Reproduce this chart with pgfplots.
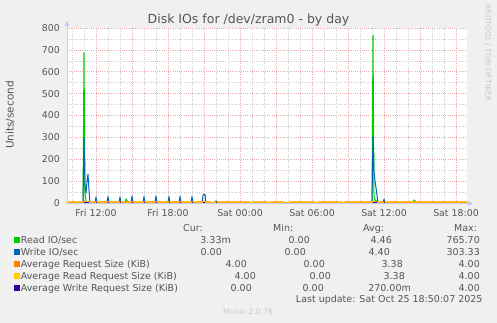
\documentclass[border=0pt]{standalone}
\usepackage{pgfplots}
\pgfplotsset{compat=1.18}
\usepackage{fontspec}
\setmainfont{DejaVu Sans}
\usetikzlibrary{arrows.meta}

\definecolor{bg}{HTML}{F0F0F0}
\definecolor{txt}{HTML}{555555}
\definecolor{faint}{HTML}{C8C8C8}
\definecolor{axiscol}{HTML}{C8C8F0}
\definecolor{mgrid}{HTML}{EBA8A8}
\definecolor{ngrid}{HTML}{CDCDCD}
\definecolor{cread}{HTML}{00CC00}
\definecolor{cwrite}{HTML}{0066B3}
\definecolor{creq}{HTML}{FF8000}
\definecolor{crreq}{HTML}{FFCC00}
\definecolor{cwreq}{HTML}{330099}

\newcommand\tfont{\fontsize{9.4}{11}\selectfont}
\newcommand\lfont{\fontsize{9.5}{11}\selectfont}

\begin{document}
\begin{tikzpicture}
\fill[bg] (0,0) rectangle (497pt,323pt);
\fill[white] (67pt,120pt) rectangle (467pt,295pt);
\begin{axis}[
  at={(67pt,120pt)}, anchor=south west,
  scale only axis, width=400pt, height=175pt,
  xmin=9.5833, xmax=42.9167, ymin=0, ymax=800,
  axis line style={draw=none},
  tick pos=left,
  major tick length=0pt, minor tick length=0pt,
  xtick={12,15,18,21,24,27,30,33,36,39,42},
  xticklabels={Fri 12:00,,Fri 18:00,,Sat 00:00,,Sat 06:00,,Sat 12:00,,Sat 18:00},
  minor xtick={10,11,...,42},
  ytick={0,100,...,800},
  minor ytick={50,150,...,750},
  grid=both,
  major grid style={mgrid, dash pattern=on 1pt off 1.2pt, line width=0.55pt},
  minor grid style={ngrid, dash pattern=on 1pt off 1.2pt, line width=0.55pt},
  /pgf/number format/assume math mode=true,
  xticklabel style={font=\tfont, text=txt, anchor=north, inner sep=0pt, yshift=-6pt},
  yticklabel style={font=\tfont, text=txt, anchor=east, inner sep=0pt, xshift=-7pt},
  clip=false,
  unbounded coords=jump,
  every axis plot/.append style={line width=1pt, line join=round, no markers},
]
% Read IO/sec
\addplot[cread] coordinates {
  (9.583,0) (10.917,0) (11.0,687) (11.083,45) (11.167,10) (11.25,0)
  (14.417,0) (14.5,18) (14.583,12) (14.667,0)
  (17.833,0) (17.917,8) (18.0,0)
  (35.0,0) (35.083,765.7) (35.167,40) (35.25,10) (35.333,14) (35.417,0)
  (38.417,0) (38.5,14) (38.583,10) (38.667,0)
  (42.917,0)
};
% Write IO/sec
\addplot[cwrite] coordinates {
  (9.583,0) (10.917,0) (11.0,296) (11.083,80) (11.167,45) (11.25,100) (11.333,132) (11.417,60) (11.5,0)
  (11.917,0) (12.0,28) (12.083,0)
  (12.917,0) (13.0,30) (13.083,0)
  (13.917,0) (14.0,28) (14.083,0)
  (14.917,0) (15.0,32) (15.083,0)
  (15.917,0) (16.0,30) (16.083,0)
  (16.917,0) (17.0,32) (17.083,0)
  (18.0,0) (18.083,30) (18.167,0)
  (18.917,0) (19.0,30) (19.083,0)
  (19.917,0) (20.0,30) (20.083,0)
  (20.833,0) (20.917,34) (21.0,41) (21.083,38) (21.167,0)
  (21.917,0) (22.0,10) (22.083,0)
  (35.0,0) (35.083,303.33) (35.167,140) (35.25,100) (35.333,70) (35.417,37) (35.5,0)
  (35.917,0) (36.0,18) (36.083,0)
  (42.917,0)
};
% Average Request Size (KiB)
\addplot[creq, line width=1.7pt] coordinates {
  (9.583,4) (21.5,4) (21.583,0) (21.833,0) (21.917,4)
  (24.75,4) (24.833,0) (25.0,0) (25.083,4)
  (26.25,4) (26.333,0) (26.5,0) (26.583,4)
  (27.583,4) (27.667,0) (28.083,0) (28.167,4)
  (30.167,4) (30.25,0) (30.5,0) (30.583,4)
  (32.417,4) (32.5,0) (32.667,0) (32.75,4)
  (42.917,4)
};
% Average Read Request Size (KiB)
\addplot[crreq, line width=1.2pt] coordinates {
  (9.583,4) (21.5,4) (21.583,0) (21.833,0) (21.917,4)
  (24.75,4) (24.833,0) (25.0,0) (25.083,4)
  (26.25,4) (26.333,0) (26.5,0) (26.583,4)
  (27.583,4) (27.667,0) (28.083,0) (28.167,4)
  (30.167,4) (30.25,0) (30.5,0) (30.583,4)
  (32.417,4) (32.5,0) (32.667,0) (32.75,4)
  (42.917,4)
};
% Average Write Request Size (KiB): zero stretches lie on the axis line
\addplot[cwreq, line width=1.1pt] coordinates {
  (11.0,4) (11.417,4) (11.45,nan)
  (12.0,4) (12.083,4) (12.1,nan)
  (13.0,4) (13.083,4) (13.1,nan)
  (14.0,4) (14.083,4) (14.1,nan)
  (15.0,4) (15.083,4) (15.1,nan)
  (16.0,4) (16.083,4) (16.1,nan)
  (17.0,4) (17.083,4) (17.1,nan)
  (18.083,4) (18.167,4) (18.2,nan)
  (19.0,4) (19.083,4) (19.1,nan)
  (20.0,4) (20.083,4) (20.1,nan)
  (20.917,4) (21.083,4) (21.1,nan)
  (22.0,4) (22.083,4) (22.1,nan)
  (35.083,4) (35.417,4) (35.45,nan)
  (36.0,4) (36.083,4)
};
\end{axis}
% axis lines with arrow heads
\draw[axiscol, line width=1pt, -{Triangle[width=5pt,length=5pt]}] (66.5pt,119.6pt) -- (473pt,119.6pt);
\draw[axiscol, line width=1pt, -{Triangle[width=5pt,length=5pt]}] (67pt,119.1pt) -- (67pt,302pt);
% titles
\node[anchor=base, font=\fontsize{12.5}{14}\selectfont, text=txt, inner sep=0pt] at (248.5pt,299.7pt) {Disk IOs for /dev/zram0 - by day};
\node[rotate=90, font=\fontsize{10.5}{12}\selectfont, text=txt, inner sep=0pt] at (10pt,208pt) {Units/second};
\node[rotate=-90, font=\fontsize{7.5}{9}\selectfont, text=faint, inner sep=0pt] at (488pt,270pt) {RRDTOOL / TOBI OETIKER};
% legend
\begin{scope}[every node/.style={font=\lfont, text=txt, inner sep=0pt}]
\node[anchor=base west] at (183pt,91.6pt) {Cur:};
\node[anchor=base west] at (273pt,91.6pt) {Min:};
\node[anchor=base west] at (363pt,91.6pt) {Avg:};
\node[anchor=base west] at (454pt,91.6pt) {Max:};
\fill[cread]  (14pt,80pt) rectangle (20pt,86pt);
\fill[cwrite] (14pt,68pt) rectangle (20pt,74pt);
\fill[creq]   (14pt,56pt) rectangle (20pt,62pt);
\fill[crreq]  (14pt,44pt) rectangle (20pt,50pt);
\fill[cwreq]  (14pt,32pt) rectangle (20pt,38pt);
\node[anchor=base west] at (20.7pt,79.6pt) {Read IO/sec};
\node[anchor=base west] at (20.7pt,67.6pt) {Write IO/sec};
\node[anchor=base west] at (20.7pt,55.6pt) {Average Request Size (KiB)};
\node[anchor=base west] at (20.7pt,43.6pt) {Average Read Request Size (KiB)};
\node[anchor=base west] at (20.7pt,31.6pt) {Average Write Request Size (KiB)};
\node[anchor=base east] at (231pt,79.6pt) {3.33m};
\node[anchor=base east] at (310pt,79.6pt) {0.00};
\node[anchor=base east] at (392pt,79.6pt) {4.46};
\node[anchor=base east] at (480pt,79.6pt) {765.70};
\node[anchor=base east] at (222pt,67.6pt) {0.00};
\node[anchor=base east] at (306pt,67.6pt) {0.00};
\node[anchor=base east] at (390pt,67.6pt) {4.40};
\node[anchor=base east] at (480pt,67.6pt) {303.33};
\node[anchor=base east] at (247pt,55.6pt) {4.00};
\node[anchor=base east] at (325pt,55.6pt) {0.00};
\node[anchor=base east] at (403pt,55.6pt) {3.38};
\node[anchor=base east] at (480pt,55.6pt) {4.00};
\node[anchor=base east] at (256pt,43.6pt) {4.00};
\node[anchor=base east] at (331pt,43.6pt) {0.00};
\node[anchor=base east] at (405pt,43.6pt) {3.38};
\node[anchor=base east] at (480pt,43.6pt) {4.00};
\node[anchor=base east] at (252pt,31.6pt) {0.00};
\node[anchor=base east] at (324pt,31.6pt) {0.00};
\node[anchor=base east] at (411pt,31.6pt) {270.00m};
\node[anchor=base east] at (480pt,31.6pt) {4.00};
\node[anchor=base east] at (482.7pt,20.3pt) {Last update: Sat Oct 25 18:50:07 2025};
\end{scope}
\node[anchor=base, font=\fontsize{7.6}{9}\selectfont, text=faint, inner sep=0pt] at (248pt,8pt) {Munin 2.0.76};
\pgfresetboundingbox
\useasboundingbox (0,0) rectangle (497pt,323pt);
\end{tikzpicture}
\end{document}
